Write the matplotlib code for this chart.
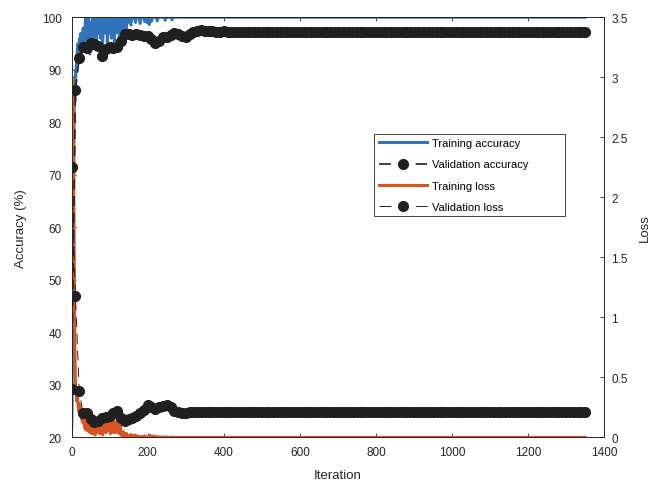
import matplotlib
matplotlib.use('Agg')
import matplotlib.pyplot as plt
import numpy as np
from matplotlib.ticker import FuncFormatter
from matplotlib.lines import Line2D

plt.rcParams['font.family'] = ['Liberation Sans', 'DejaVu Sans']
plt.rcParams['lines.scale_dashes'] = False

# training curves
train_iter = np.concatenate([np.arange(1, 12), np.arange(12, 151, 2),
                             np.arange(153, 301, 3), [1350]])

train_acc = [22, 28, 40, 52, 62, 72, 80, 86, 84, 90, 88,
             91, 93, 95, 92, 96, 94, 97, 93, 96, 98,
             95, 97, 100, 94, 98, 96, 100, 97, 93, 99,
             97, 100, 95, 98, 100, 96, 99, 94, 100, 97,
             99, 100, 96, 98, 100, 95, 99, 100, 97, 100,
             98, 94, 100, 99, 97, 100, 96, 100, 98, 100,
             95, 100, 99, 97, 100, 98, 100, 94.5, 100, 99,
             100, 96, 100, 98, 100, 100, 97, 100, 99, 100,
             100, 98.5, 100, 100, 100, 99, 100, 100, 100, 98.8,
             100, 100, 100, 99.2, 100, 99, 100, 98.6, 100, 99.2,
             100, 100, 100, 100, 99.3, 100, 100, 100, 100, 100,
             100, 99.4, 100, 100, 100, 100, 100, 99.5, 100, 100,
             100, 100, 100, 100, 100, 100, 100, 100, 100, 100,
             100]

train_loss = [3.0, 2.9, 3.0, 2.6, 2.8, 2.0, 1.5, 1.0, 0.7, 0.5, 0.4,
              0.35, 0.3, 0.33, 0.22, 0.28, 0.18, 0.24, 0.15, 0.2, 0.12,
              0.17, 0.08, 0.14, 0.06, 0.12, 0.1, 0.05, 0.11, 0.04, 0.09,
              0.07, 0.03, 0.1, 0.05, 0.08, 0.02, 0.09, 0.04, 0.11, 0.05,
              0.12, 0.03, 0.13, 0.06, 0.1, 0.02, 0.14, 0.07, 0.12, 0.04,
              0.15, 0.05, 0.13, 0.08, 0.16, 0.03, 0.12, 0.06, 0.14, 0.04,
              0.12, 0.04, 0.13, 0.05, 0.14, 0.04, 0.12, 0.03, 0.1, 0.02,
              0.04, 0.01, 0.05, 0.012, 0.03, 0.008, 0.035, 0.01, 0.02, 0.006,
              0.01, 0.025, 0.005, 0.015, 0.004, 0.02, 0.005, 0.003, 0.012, 0.004,
              0.003, 0.008, 0.002, 0.015, 0.003, 0.002, 0.006, 0.002, 0.018, 0.003,
              0.002, 0.012, 0.002, 0.002, 0.008, 0.002, 0.002, 0.004, 0.001, 0.002,
              0.002, 0.006, 0.001, 0.002, 0.001, 0.001, 0.003, 0.001, 0.001, 0.001,
              0.001, 0.001, 0.001, 0.001, 0.001, 0.001, 0.001, 0.001, 0.001, 0.001,
              0.001]

# validation every 10 iterations
val_iter = np.arange(0, 1351, 10)

val_acc = [29.2, 86.2, 92.3, 94.4, 94.2, 95.2, 95.0, 94.6, 92.6, 94.0,
           94.4, 94.2, 94.4, 95.6, 96.8, 96.9, 96.7, 96.8, 96.6, 96.5,
           96.4, 95.8, 95.2, 95.6, 96.2, 96.3, 96.7, 97.1, 96.9, 96.4,
           96.2, 96.8, 97.2, 97.5, 97.6, 97.5,
           97.4, 97.4, 97.3, 97.3, 97.4, 97.3, 97.3, 97.3, 97.3, 97.3,
           97.3, 97.3, 97.2, 97.2, 97.2, 97.2, 97.2, 97.2, 97.2, 97.2,
           97.2, 97.2, 97.2, 97.2, 97.3, 97.3, 97.3, 97.3, 97.3, 97.3,
           97.3, 97.3, 97.3, 97.3, 97.3, 97.3, 97.3, 97.3, 97.3, 97.3,
           97.3, 97.3, 97.3, 97.3, 97.3, 97.3, 97.3, 97.3, 97.3, 97.3,
           97.3, 97.3, 97.3, 97.3, 97.3, 97.3, 97.3, 97.3, 97.3, 97.3,
           97.3, 97.3, 97.3, 97.3, 97.3, 97.3, 97.3, 97.3, 97.3, 97.3,
           97.3, 97.3, 97.3, 97.3, 97.3, 97.3, 97.3, 97.3, 97.3, 97.3,
           97.3, 97.3, 97.3, 97.3, 97.3, 97.3, 97.3, 97.3, 97.3, 97.3,
           97.3, 97.3, 97.3, 97.3, 97.3, 97.3, 97.3, 97.3, 97.3, 97.3]

val_loss = [2.25, 1.18, 0.39, 0.20, 0.20, 0.15, 0.13, 0.14, 0.16, 0.17,
            0.18, 0.20, 0.22, 0.16, 0.14, 0.15, 0.16, 0.18, 0.20, 0.23,
            0.27, 0.25, 0.24, 0.25, 0.26, 0.27, 0.25, 0.22, 0.21, 0.20,
            0.20, 0.21,
            0.21, 0.215, 0.215, 0.21, 0.21, 0.21, 0.21, 0.21, 0.21, 0.21,
            0.21, 0.21, 0.21, 0.21, 0.21, 0.21, 0.21, 0.21, 0.21, 0.21,
            0.21, 0.21, 0.21, 0.21, 0.21, 0.21, 0.21, 0.21, 0.21, 0.21,
            0.21, 0.21, 0.21, 0.21, 0.21, 0.21, 0.21, 0.21, 0.21, 0.21,
            0.21, 0.21, 0.21, 0.21, 0.21, 0.21, 0.21, 0.21, 0.21, 0.21,
            0.21, 0.21, 0.21, 0.21, 0.21, 0.21, 0.21, 0.21, 0.21, 0.21,
            0.21, 0.21, 0.21, 0.21, 0.21, 0.21, 0.21, 0.21, 0.21, 0.21,
            0.21, 0.21, 0.21, 0.21, 0.21, 0.21, 0.21, 0.21, 0.21, 0.21,
            0.21, 0.21, 0.21, 0.21, 0.21, 0.21, 0.21, 0.21, 0.21, 0.21,
            0.21, 0.21, 0.21, 0.21, 0.21, 0.21, 0.21, 0.21, 0.21, 0.21,
            0.21, 0.21, 0.21, 0.21]

blue = '#3173b9'
orange = '#d9541e'
dark = '#202020'
axcol = '#262626'

fig = plt.figure(figsize=(6.51, 4.85), dpi=100)
ax = fig.add_axes([0.110, 0.096, 0.818, 0.866])
ax2 = ax.twinx()
ax3 = ax.twinx()

ax.plot(train_iter, train_acc, color=blue, lw=1.9)
ax2.plot(train_iter, train_loss, color=orange, lw=2.1)
ax2.plot(val_iter, val_loss, color=dark, lw=0.7, ls='--', dashes=(7, 5),
         marker='o', ms=7)
ax3.plot(val_iter, val_acc, color=dark, lw=1.2, ls='--', dashes=(7, 5),
         marker='o', ms=7)

ax.set_xlim(0, 1400)
ax.set_ylim(20, 100)
ax2.set_ylim(0, 3.5)
ax3.set_ylim(20, 100)
ax3.axis('off')

ax.set_xticks(np.arange(0, 1401, 200))
ax.set_yticks(np.arange(20, 101, 10))
ax2.set_yticks(np.arange(0, 3.51, 0.5))
ax2.yaxis.set_major_formatter(FuncFormatter(lambda v, p: '%g' % v))

for a in (ax, ax2):
    a.tick_params(direction='in', length=3, width=0.6, colors=axcol, labelsize=8.5)
    for s in a.spines.values():
        s.set_color(axcol)
        s.set_linewidth(0.6)
ax.tick_params(axis='x', top=True, pad=6)
ax.tick_params(axis='y', pad=7)
ax2.tick_params(axis='y', pad=5)

ax.set_xlabel('Iteration', fontsize=9.5, color=axcol, labelpad=8)
ax.set_ylabel('Accuracy (%)', fontsize=9.5, color=axcol, labelpad=11)
ax2.set_ylabel('Loss', fontsize=9.5, color=axcol, labelpad=8)

handles = [Line2D([], [], color=blue, lw=2.2),
           Line2D([], [], color=dark, lw=1.2, ls='--', dashes=(8.6, 17.8), marker='o', ms=7),
           Line2D([], [], color=orange, lw=2.2),
           Line2D([], [], color=dark, lw=0.7, ls='--', dashes=(8.6, 17.8), marker='o', ms=7)]
labels = ['Training accuracy', 'Validation accuracy', 'Training loss', 'Validation loss']
leg = ax3.legend(handles, labels, loc='upper left',
                 bbox_to_anchor=(0.568, 0.5, 0.359, 0.2226), mode='expand',
                 borderaxespad=0, fontsize=8, handlelength=4.4, handletextpad=0.4,
                 labelspacing=1.0, fancybox=False, framealpha=1, edgecolor=axcol)
leg.get_frame().set_linewidth(0.6)

fig.savefig('out.png', dpi=100)
